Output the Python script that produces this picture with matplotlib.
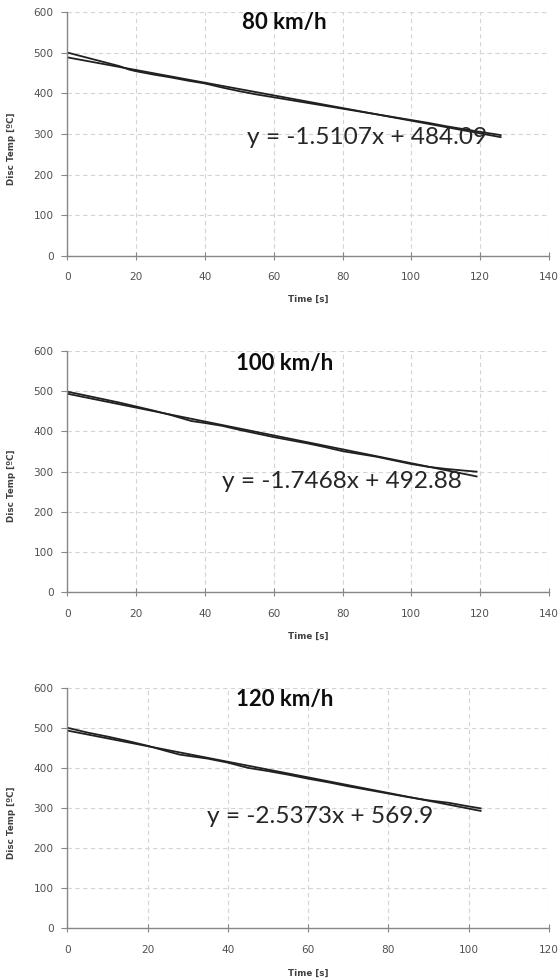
import numpy as np
import matplotlib
matplotlib.use("Agg")
import matplotlib.pyplot as plt

# -----------------------------------------------------
#   DATA
# -----------------------------------------------------
titles = ["80 km/h", "100 km/h", "120 km/h"]
equations = ["y = -1.5107x + 484.09", "y = -1.7468x + 492.88", "y = -2.5373x + 569.9"]
xmax = [140, 140, 120]

time_80 = [0, 5, 10, 15, 18, 20, 25, 30, 35, 40, 45, 50, 55, 60, 65, 70, 75, 80,
           85, 90, 95, 100, 105, 110, 115, 120, 126]
temp_80 = [500, 489, 478, 467, 458, 454, 446, 439, 431, 424, 414, 405, 397, 390, 383,
           376, 369, 362, 355, 348, 341, 334, 327, 319, 312, 305, 297]

time_100 = [0, 5, 10, 15, 20, 25, 30, 36, 40, 45, 50, 55, 60, 65, 70, 75, 80, 85,
            90, 95, 100, 105, 110, 115, 119]
temp_100 = [499, 490, 481, 472, 462, 452, 441, 426, 421, 414, 404, 395, 386, 378,
            370, 361, 351, 344, 337, 328, 319, 312, 307, 303, 300]

time_120 = [0, 5, 10, 15, 20, 25, 28, 35, 40, 45, 50, 55, 60, 65, 70, 75, 80, 85,
            90, 95, 100, 103]
temp_120 = [500, 488, 478, 467, 455, 441, 433, 423, 413, 400, 392, 383, 373, 364,
            354, 345, 336, 327, 319, 313, 304, 299]

series = [(time_80, temp_80), (time_100, temp_100), (time_120, temp_120)]

# -----------------------------------------------------
#   LAYOUT (figure fractions)
# -----------------------------------------------------
boxes = [
    [0.1205, 0.739, 0.8595, 0.2488],
    [0.1205, 0.3956, 0.8595, 0.2462],
    [0.1205, 0.0528, 0.8595, 0.2455],
]
title_pos = [(0.451, 0.955), (0.452, 0.949), (0.452, 0.949)]
eq_pos = [(0.622, 0.485), (0.5695, 0.458), (0.525, 0.464)]
xlabel_y = [-0.162, -0.165, -0.168]

BIG = "Lato"
SMALL = "DejaVu Sans"
GRID = "#d4d4d4"
SPINE = "#878787"

fig = plt.figure(figsize=(5.6, 9.8), dpi=100)

for i, (t, temp) in enumerate(series):
    ax = fig.add_axes(boxes[i])
    t = np.array(t, dtype=float)
    temp = np.array(temp, dtype=float)

    # measured curve and Excel-style linear trendline
    ax.plot(t, temp, color="#202020", lw=1.3)
    k, b = np.polyfit(t, temp, 1)
    ax.plot([t[0], t[-1]], [k * t[0] + b, k * t[-1] + b], color="#202020", lw=1.3)

    ax.set_xlim(0, xmax[i])
    ax.set_ylim(0, 600)
    ax.set_xticks(np.arange(0, xmax[i] + 1, 20))
    ax.set_yticks(np.arange(0, 601, 100))
    ax.grid(True, color=GRID, linestyle=(0, (4, 3)), linewidth=0.8)
    ax.set_axisbelow(True)

    for s in ["top", "right"]:
        ax.spines[s].set_visible(False)
    for s in ["left", "bottom"]:
        ax.spines[s].set_color(SPINE)
        ax.spines[s].set_linewidth(1.0)

    ax.tick_params(axis="x", direction="inout", length=6, width=0.8, color=SPINE,
                   pad=9, labelsize=7.6, labelcolor="#505050")
    ax.tick_params(axis="y", direction="out", length=4, width=0.8, color=SPINE,
                   pad=6, labelsize=7.6, labelcolor="#505050")
    for lab in ax.get_xticklabels() + ax.get_yticklabels():
        lab.set_fontfamily(SMALL)

    ax.set_ylabel("Disc Temp [ºC]", fontsize=6.3, fontweight="bold", family=SMALL, color="#404040")
    ax.yaxis.set_label_coords(-0.1076, 0.44)
    ax.set_xlabel("Time [s]", fontsize=6.3, fontweight="bold", family=SMALL, color="#404040")
    ax.xaxis.set_label_coords(0.5, xlabel_y[i])

    ax.text(title_pos[i][0], title_pos[i][1], titles[i], transform=ax.transAxes,
            ha="center", va="center", fontsize=16, fontweight="bold", family=BIG,
            color="#0d0d0d")
    ax.text(eq_pos[i][0], eq_pos[i][1], equations[i], transform=ax.transAxes,
            ha="center", va="center", fontsize=17.6, family=BIG, color="#262626")

fig.savefig("out.png", dpi=100)
